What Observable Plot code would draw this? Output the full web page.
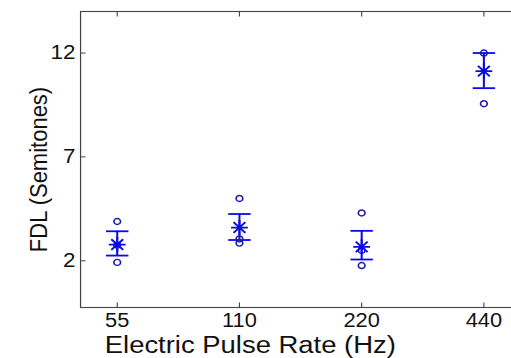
<!DOCTYPE html>
<html>
<head>
<meta charset="utf-8">
<script src="https://cdn.jsdelivr.net/npm/d3@7"></script>
<script src="https://cdn.jsdelivr.net/npm/@observablehq/plot@0.6"></script>
<style>
  html, body { margin: 0; padding: 0; background: #fff; overflow: hidden; }
  #chart svg { display: block; }
</style>
</head>
<body>
<div id="chart"></div>
<script>
// ---- data ----
const rateLabels = ["55", "110", "220", "440"];
const ratePos = [1, 2, 3, 4];
const meanFDL = [2.78, 3.60, 2.67, 11.13];
const errLow = [2.25, 3.00, 2.06, 10.31];
const errHigh = [3.42, 4.25, 3.44, 12.00];
const subjRate = [1, 1, 1, 2, 2, 2, 3, 3, 3, 4, 4];
const subjFDL = [3.89, 2.75, 1.92, 5.00, 3.05, 2.85, 4.30, 2.50, 1.77, 12.00, 9.56];
const yTicks = [2, 7, 12];
const xTitle = "Electric Pulse Rate (Hz)";
const yTitle = "FDL (Semitones)";

// ---- layout ----
const stretch = 1.12;            // horizontal stretch of the reference image
const W = 511 / stretch, H = 358;
const mLeft = 80 / stretch, mRight = W - 520 / stretch;

const means = ratePos.map((p, i) => ({x: p, y: meanFDL[i], lo: errLow[i], hi: errHigh[i]}));
const subjects = subjRate.map((p, i) => ({x: p, y: subjFDL[i]}));

// custom symbols
const capSym = {draw(ctx, size) { const r = Math.sqrt(size / Math.PI); ctx.moveTo(-r, 0); ctx.lineTo(r, 0); }};
const starSym = {draw(ctx, size) {
  const r = Math.sqrt(size / Math.PI), d = r * Math.SQRT1_2;
  ctx.moveTo(-r, 0); ctx.lineTo(r, 0);
  ctx.moveTo(0, -r); ctx.lineTo(0, r);
  ctx.moveTo(-d, -d); ctx.lineTo(d, d);
  ctx.moveTo(-d, d); ctx.lineTo(d, -d);
}};
const tickRight = {draw(ctx, size) { const r = Math.sqrt(size / Math.PI); ctx.moveTo(0, 0); ctx.lineTo(r, 0); }};
const tickUp = {draw(ctx, size) { const r = Math.sqrt(size / Math.PI); ctx.moveTo(0, 0); ctx.lineTo(0, -r); }};
const tickDown = {draw(ctx, size) { const r = Math.sqrt(size / Math.PI); ctx.moveTo(0, 0); ctx.lineTo(0, r); }};

const axisColor = "#444";
const blue = "#0a0ae6";
const navy = "#1c1cae";

const chart = Plot.plot({
  width: W,
  height: H,
  marginLeft: mLeft,
  marginRight: mRight,
  marginTop: 11,
  marginBottom: 51,
  style: {fontFamily: "'Liberation Sans', Arial, sans-serif", color: "#111", background: "#fff"},
  x: {domain: [0.7, 4.3], range: [mLeft, W - mRight]},
  y: {domain: [-0.25, 14], range: [307, 11]},
  marks: [
    Plot.frame({stroke: axisColor, strokeWidth: 1.1}),
    // inward tick marks
    Plot.dot(yTicks, {y: d => d, frameAnchor: "left", symbol: tickRight, r: 4.5, stroke: axisColor, fill: "none", strokeWidth: 1}),
    Plot.dot(ratePos, {x: d => d, frameAnchor: "bottom", symbol: tickUp, r: 5, stroke: axisColor, fill: "none", strokeWidth: 1}),
    Plot.dot(ratePos, {x: d => d, frameAnchor: "top", symbol: tickDown, r: 5, stroke: axisColor, fill: "none", strokeWidth: 1}),
    Plot.axisY({ticks: yTicks, tickSize: 0, tickPadding: 4.5, fontSize: 20, label: null}),
    Plot.axisX({ticks: ratePos, tickFormat: d => rateLabels[d - 1], tickSize: 0, tickPadding: 6, fontSize: 19.5, label: null}),
    // error bars
    Plot.ruleX(means, {x: "x", y1: "lo", y2: "hi", stroke: blue, strokeWidth: 1.8}),
    Plot.dot(means, {x: "x", y: "lo", symbol: capSym, r: 10, stroke: blue, fill: "none", strokeWidth: 1.8}),
    Plot.dot(means, {x: "x", y: "hi", symbol: capSym, r: 10, stroke: blue, fill: "none", strokeWidth: 1.8}),
    // individual subjects
    Plot.dot(subjects, {x: "x", y: "y", r: 3, stroke: navy, fill: "none", strokeWidth: 1.4}),
    // means
    Plot.dot(means, {x: "x", y: "y", symbol: starSym, r: 7.5, stroke: blue, fill: "none", strokeWidth: 1.8}),
    // axis titles
    Plot.text([xTitle], {frameAnchor: "bottom", textAnchor: "middle", dx: 223 - (mLeft + W - mRight) / 2, dy: 37.5, fontSize: 24.5, lineAnchor: "middle", fill: "#111"}),
    Plot.text([yTitle], {frameAnchor: "left", textAnchor: "middle", rotate: -90, dx: 39 / stretch - mLeft, dy: 10, fontSize: 22, lineAnchor: "middle", fill: "#111"})
  ]
});

chart.setAttribute("width", 511);
chart.setAttribute("height", 358);
chart.setAttribute("viewBox", `0 0 ${W} ${H}`);
chart.setAttribute("preserveAspectRatio", "none");
chart.style.width = "511px";
chart.style.height = "358px";
chart.style.maxWidth = "none";
document.getElementById("chart").append(chart);
</script>
</body>
</html>
